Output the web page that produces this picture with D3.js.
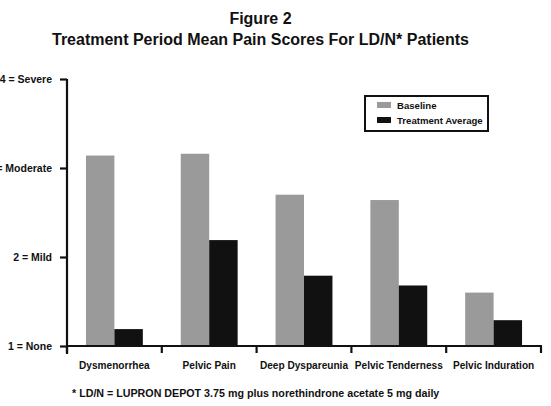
<!DOCTYPE html>
<html>
<head>
<meta charset="utf-8">
<script src="https://cdn.jsdelivr.net/npm/d3@7"></script>
<style>
	body { margin: 0; background: #fff; }
	text { font-family: "Liberation Sans", Arial, sans-serif; font-weight: bold; fill: #111; }
</style>
</head>
<body>
<div id="chart"></div>
<script>
// Data
var categories = ["Dysmenorrhea", "Pelvic Pain", "Deep Dyspareunia", "Pelvic Tenderness", "Pelvic Induration"];
var seriesNames = ["Baseline", "Treatment Average"];
var baseline = [3.14, 3.16, 2.70, 2.64, 1.60];
var treatment = [1.19, 2.19, 1.79, 1.68, 1.29];
var yTicks = [1, 2, 3, 4];
var yTickLabels = ["1 = None", "2 = Mild", "3 = Moderate", "4 = Severe"];
var footnote = "* LD/N = LUPRON DEPOT 3.75 mg plus norethindrone acetate 5 mg daily";

var w = 551,
	h = 406;

var colors = ["#9a9a9a", "#111111"];

var svg = d3.select("#chart")
	.append("svg")
		.attr("width", w)
		.attr("height", h);

// Titles
svg.append("text")
	.attr("x", 260.5)
	.attr("y", 24)
	.attr("text-anchor", "middle")
	.style("font-size", "16px")
	.text("Figure 2");
svg.append("text")
	.attr("x", 260.5)
	.attr("y", 45)
	.attr("text-anchor", "middle")
	.style("font-size", "16px")
	.text("Treatment Period Mean Pain Scores For LD/N* Patients");

// Scales
var x0 = d3.scaleBand()
	.domain(categories)
	.range([67, 541]);
var x1 = d3.scaleBand()
	.domain(seriesNames)
	.range([x0.bandwidth() * 0.2, x0.bandwidth() * 0.8]);
var y = d3.scaleLinear()
	.domain([1, 4])
	.range([346, 79]);

// Bars
var rows = categories.map(function(c, i){
	return {key: c, values: [{s: seriesNames[0], v: baseline[i]}, {s: seriesNames[1], v: treatment[i]}]};
});

var g = svg.append("g");
g.selectAll(".cat")
	.data(rows)
	.enter()
	.append("g")
	.attr("class", "cat")
	.attr("transform", function(d){ return "translate(" + x0(d.key) + ",0)"; })
	.selectAll("rect")
	.data(function(d){ return d.values; })
	.enter()
	.append("rect")
	.attr("x", function(d){ return x1(d.s); })
	.attr("width", x1.bandwidth())
	.attr("y", function(d){ return y(d.v); })
	.attr("height", function(d){ return y(1) - y(d.v); })
	.attr("fill", function(d, i){ return colors[i]; });

// Y axis
var yAxis = d3.axisLeft(y)
	.tickValues(yTicks)
	.tickSize(7)
	.tickPadding(8)
	.tickFormat(function(d, i){ return yTickLabels[i]; });
var gY = svg.append("g")
	.attr("transform", "translate(67,0)")
	.call(yAxis);
gY.select(".domain").remove();
gY.append("line")
	.attr("x1", 0).attr("x2", 0)
	.attr("y1", y(4)).attr("y2", 354)
	.attr("stroke", "#111").attr("stroke-width", 2.2);
gY.selectAll(".tick line").attr("stroke", "#111").attr("stroke-width", 2.2);
gY.selectAll(".tick text").style("font-size", "10.5px").attr("fill", "#111");

// X axis: line with ticks at category boundaries
var gX = svg.append("g");
gX.append("line")
	.attr("x1", 66).attr("x2", 542)
	.attr("y1", y(1)).attr("y2", y(1))
	.attr("stroke", "#111").attr("stroke-width", 2.2);
var bounds = categories.map(function(c){ return x0(c); }).concat([x0.range()[1]]);
gX.selectAll(".btick")
	.data(bounds)
	.enter()
	.append("line")
	.attr("class", "btick")
	.attr("x1", function(d){ return d; }).attr("x2", function(d){ return d; })
	.attr("y1", y(1)).attr("y2", y(1) + 7)
	.attr("stroke", "#111").attr("stroke-width", 2.2);
gX.selectAll(".clabel")
	.data(categories)
	.enter()
	.append("text")
	.attr("class", "clabel")
	.attr("x", function(d){ return x0(d) + x0.bandwidth() / 2; })
	.attr("y", 369)
	.attr("text-anchor", "middle")
	.style("font-size", "10.1px")
	.text(function(d){ return d; });

// Legend
var leg = svg.append("g").attr("transform", "translate(365,96)");
leg.append("rect")
	.attr("width", 123).attr("height", 35)
	.attr("fill", "#fff").attr("stroke", "#111").attr("stroke-width", 2);
leg.selectAll(".item")
	.data(seriesNames)
	.enter()
	.append("g")
	.attr("transform", function(d, i){ return "translate(12," + (6 + i * 15) + ")"; })
	.each(function(d, i){
		d3.select(this).append("rect")
			.attr("width", 14).attr("height", 6)
			.attr("fill", colors[i]);
		d3.select(this).append("text")
			.attr("x", 20).attr("y", 6.5)
			.style("font-size", "9.6px")
			.text(d);
	});

// Footnote
svg.append("text")
	.attr("x", 72)
	.attr("y", 397)
	.style("font-size", "10.7px")
	.text(footnote);
</script>
</body>
</html>
